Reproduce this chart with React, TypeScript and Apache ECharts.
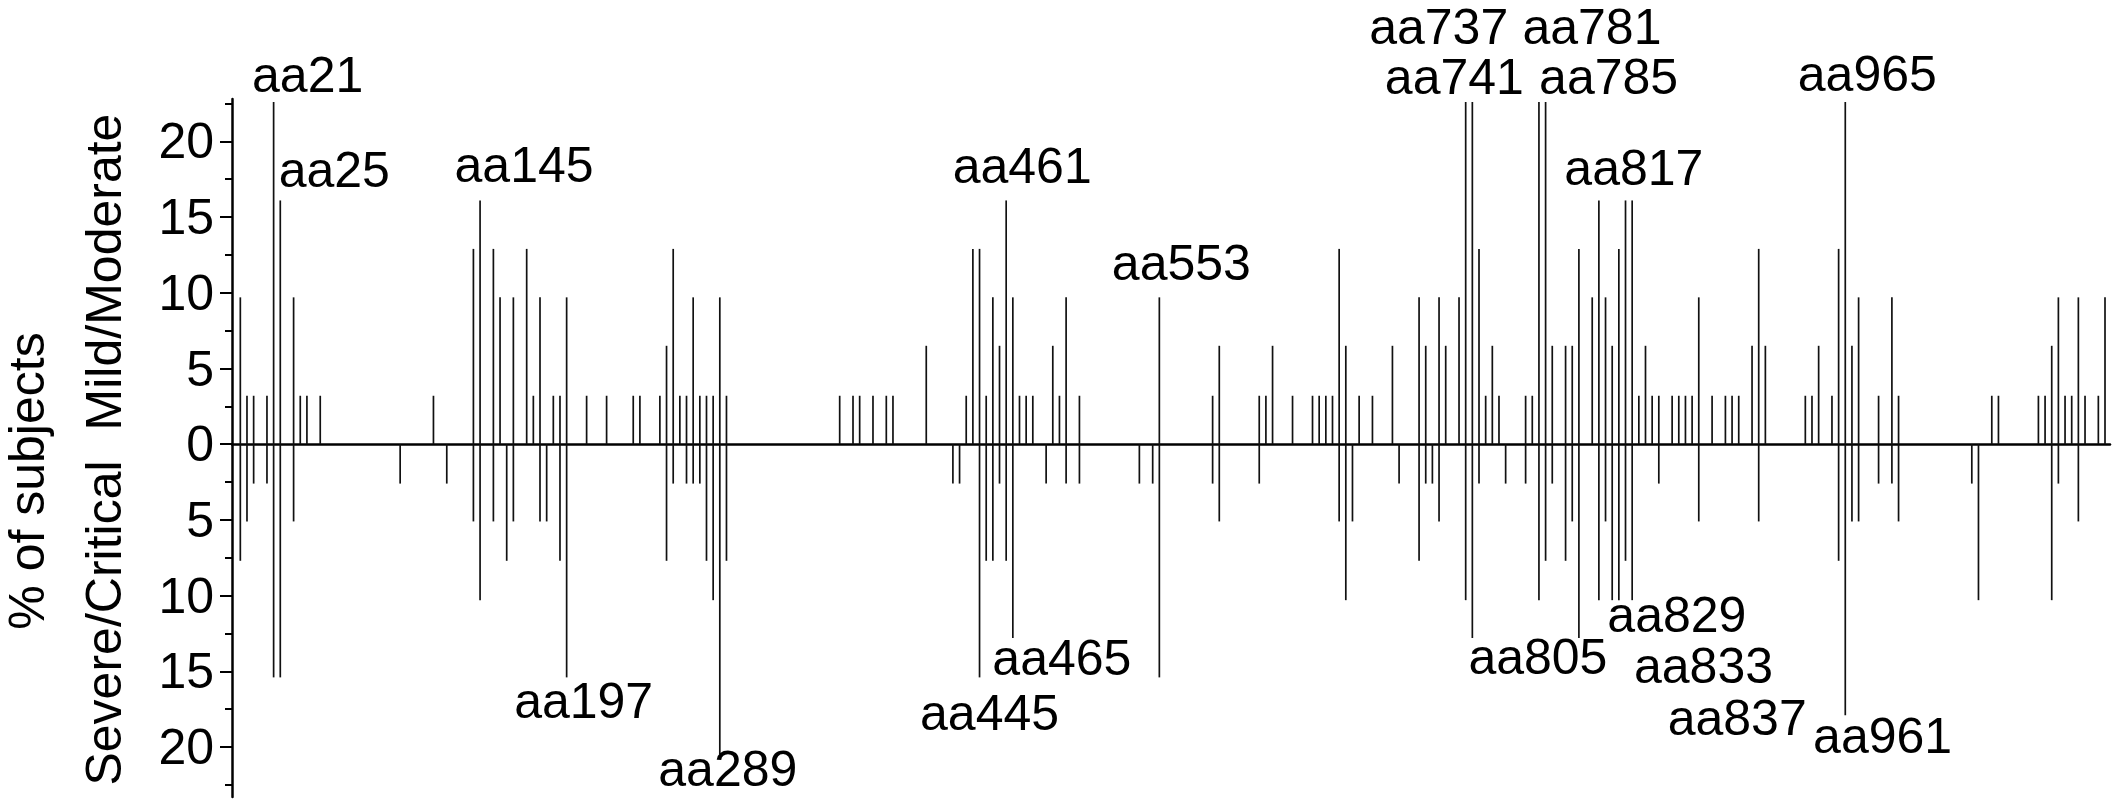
import React, { useEffect, useRef } from 'react';
import * as echarts from 'echarts';

// amino-acid positions that carry at least one bar
const positions = [
  1, 5, 9, 17, 21, 25, 33, 37, 41, 49, 97, 117, 125, 141, 145, 153, 157, 161, 165, 173,
  177, 181, 185, 189, 193, 197, 209, 221, 237, 241, 253, 257, 261, 265, 269, 273, 277, 281, 285, 289,
  293, 361, 369, 373, 381, 389, 393, 413, 429, 433, 437, 441, 445, 449, 453, 457, 461, 465, 469, 473,
  477, 485, 489, 493, 497, 505, 541, 549, 553, 585, 589, 613, 617, 621, 633, 645, 649, 653, 657, 661,
  665, 669, 673, 681, 693, 697, 709, 713, 717, 721, 725, 733, 737, 741, 745, 749, 753, 757, 761, 773,
  777, 781, 785, 789, 797, 801, 805, 813, 817, 821, 825, 829, 833, 837, 841, 845, 849, 853, 861, 865,
  869, 873, 877, 885, 893, 897, 901, 909, 913, 917, 941, 945, 949, 957, 961, 965, 969, 973, 985, 993,
  997, 1041, 1045, 1053, 1057, 1081, 1085, 1089, 1093, 1097, 1101, 1105, 1109, 1117, 1121,
];

// % of subjects, mild/moderate (upwards)
const mildModerate = [
  9.7, 3.2, 3.2, 3.2, 22.6, 16.1, 9.7, 3.2, 3.2, 3.2, 0, 3.2, 0, 12.9, 16.1, 12.9, 9.7, 0, 9.7, 12.9,
  3.2, 9.7, 0, 3.2, 3.2, 9.7, 3.2, 3.2, 3.2, 3.2, 3.2, 6.5, 12.9, 3.2, 3.2, 9.7, 3.2, 3.2, 3.2, 9.7,
  3.2, 3.2, 3.2, 3.2, 3.2, 3.2, 3.2, 6.5, 0, 0, 3.2, 12.9, 12.9, 3.2, 9.7, 6.5, 16.1, 9.7, 3.2, 3.2,
  3.2, 0, 6.5, 3.2, 9.7, 3.2, 0, 0, 9.7, 3.2, 6.5, 3.2, 3.2, 6.5, 3.2, 3.2, 3.2, 3.2, 3.2, 12.9,
  6.5, 0, 3.2, 3.2, 6.5, 0, 9.7, 6.5, 0, 9.7, 6.5, 9.7, 22.6, 22.6, 12.9, 3.2, 6.5, 3.2, 0, 3.2,
  3.2, 22.6, 22.6, 6.5, 6.5, 6.5, 12.9, 9.7, 16.1, 9.7, 6.5, 12.9, 16.1, 16.1, 3.2, 6.5, 3.2, 3.2, 3.2, 3.2,
  3.2, 3.2, 9.7, 3.2, 3.2, 3.2, 3.2, 6.5, 12.9, 6.5, 3.2, 3.2, 6.5, 3.2, 12.9, 22.6, 6.5, 9.7, 3.2, 9.7,
  3.2, 0, 0, 3.2, 3.2, 3.2, 3.2, 6.5, 9.7, 3.2, 3.2, 9.7, 3.2, 3.2, 9.7,
];

// % of subjects, severe/critical (downwards)
const severeCritical = [
  7.7, 5.1, 2.6, 2.6, 15.4, 15.4, 5.1, 0, 0, 0, 2.6, 0, 2.6, 5.1, 10.3, 5.1, 0, 7.7, 5.1, 0,
  0, 5.1, 5.1, 0, 7.7, 15.4, 0, 0, 0, 0, 0, 7.7, 2.6, 0, 2.6, 2.6, 2.6, 7.7, 10.3, 20.5,
  7.7, 0, 0, 0, 0, 0, 0, 0, 2.6, 2.6, 0, 0, 15.4, 7.7, 7.7, 2.6, 7.7, 12.8, 0, 0,
  0, 2.6, 0, 0, 2.6, 2.6, 2.6, 2.6, 15.4, 2.6, 5.1, 2.6, 0, 0, 0, 0, 0, 0, 0, 5.1,
  10.3, 5.1, 0, 0, 0, 2.6, 7.7, 2.6, 2.6, 5.1, 0, 0, 10.3, 12.8, 2.6, 0, 0, 0, 2.6, 2.6,
  0, 10.3, 7.7, 2.6, 7.7, 5.1, 12.8, 0, 10.3, 5.1, 10.3, 10.3, 7.7, 10.3, 0, 0, 0, 2.6, 0, 0,
  0, 0, 5.1, 0, 0, 0, 0, 0, 5.1, 0, 0, 0, 0, 0, 7.7, 17.9, 5.1, 5.1, 2.6, 2.6,
  5.1, 2.6, 10.3, 0, 0, 0, 0, 10.3, 2.6, 0, 0, 5.1, 0, 0, 0,
];

const majorTicks = [-20, -15, -10, -5, 0, 5, 10, 15, 20];
const minorTicks = [-22.5, -17.5, -12.5, -7.5, -2.5, 2.5, 7.5, 12.5, 17.5, 22.5];

const topLabels = [21, 25, 145, 461, 553, 737, 741, 781, 785, 817, 965];
const bottomLabels = [197, 289, 445, 465, 805, 829, 833, 837, 961];

// label placement relative to the bar tip, px
const topShift: Record<number, [number, number]> = {
  21: [34, -6], 25: [54, -9], 145: [44, -14], 461: [16, -13], 553: [22, -13],
  737: [-27, -54], 741: [-18, -4], 781: [53, -54], 785: [63, -4], 817: [35, -11], 965: [22, -7],
};
const bottomShift: Record<number, [number, number]> = {
  197: [17, 3], 289: [8, -7], 445: [10, 15], 465: [49, -1], 805: [-41, -2],
  829: [58, -6], 833: [78, 84], 837: [105, 97], 961: [44, 154],
};

const FONT = '"Liberation Sans", Arial, sans-serif';

export default function App() {
  const chartRef = useRef<HTMLDivElement>(null);

  useEffect(() => {
    if (!chartRef.current) return;
    const chart = echarts.init(chartRef.current, null, { renderer: 'svg' });

    const upData: any[] = [];
    const downData: any[] = [];
    positions.forEach((aa, i) => {
      if (mildModerate[i] > 0) {
        const item: any = { value: [aa, mildModerate[i]] };
        if (topLabels.includes(aa)) {
          item.label = {
            show: true, position: 'top', distance: 0,
            formatter: 'aa' + aa, offset: topShift[aa],
          };
        }
        upData.push(item);
      }
      if (severeCritical[i] > 0) {
        const item: any = { value: [aa, -severeCritical[i]] };
        if (bottomLabels.includes(aa)) {
          item.label = {
            show: true, position: 'bottom', distance: 0,
            formatter: 'aa' + aa, offset: bottomShift[aa],
          };
        }
        downData.push(item);
      }
    });

    const labelStyle = { show: false, fontSize: 50, lineHeight: 42, fontFamily: FONT, color: '#000' };

    const option: any = {
      animation: false,
      grid: { left: 232, right: 2, top: 99, bottom: 3, outerBoundsMode: 'none' },
      xAxis: {
        type: 'value', min: -4, max: 1124,
        axisLine: { onZero: true, lineStyle: { color: '#000', width: 2.5 } },
        axisTick: { show: false }, axisLabel: { show: false }, splitLine: { show: false },
      },
      yAxis: [
        {
          type: 'value', min: -23.3, max: 22.8, position: 'left',
          axisLine: { show: true, onZero: false, lineStyle: { color: '#000', width: 2.5 } },
          axisTick: { show: true, customValues: majorTicks, length: 12, lineStyle: { color: '#000', width: 2 } },
          axisLabel: {
            show: true, customValues: majorTicks, margin: 18,
            formatter: (v: number) => String(Math.abs(v)),
            fontSize: 50, fontFamily: FONT, color: '#000',
          },
          splitLine: { show: false },
        },
        {
          type: 'value', min: -23.3, max: 22.8, position: 'left',
          axisLine: { show: false, onZero: false },
          axisTick: { show: true, customValues: minorTicks, length: 7, lineStyle: { color: '#000', width: 2 } },
          axisLabel: { show: false },
          splitLine: { show: false },
        },
      ],
      series: [
        {
          type: 'bar', name: 'Mild/Moderate', yAxisIndex: 0,
          barWidth: 1.7, barGap: '-100%',
          itemStyle: { color: '#111' }, label: labelStyle, data: upData,
        },
        {
          type: 'bar', name: 'Severe/Critical', yAxisIndex: 0,
          barWidth: 1.7, barGap: '-100%',
          itemStyle: { color: '#111' }, label: labelStyle, data: downData,
        },
      ],
      graphic: [
        {
          type: 'text', x: 27, y: 481, rotation: Math.PI / 2,
          style: { text: '% of subjects', fontSize: 50, lineHeight: 44, fontFamily: FONT, fill: '#000', align: 'center', verticalAlign: 'middle' },
        },
        {
          type: 'text', x: 104, y: 272, rotation: Math.PI / 2,
          style: { text: 'Mild/Moderate', fontSize: 50, lineHeight: 44, fontFamily: FONT, fill: '#000', align: 'center', verticalAlign: 'middle' },
        },
        {
          type: 'text', x: 104, y: 623, rotation: Math.PI / 2,
          style: { text: 'Severe/Critical', fontSize: 50, lineHeight: 44, fontFamily: FONT, fill: '#000', align: 'center', verticalAlign: 'middle' },
        },
      ],
    };

    chart.setOption(option);
    return () => {
      chart.dispose();
    };
  }, []);

  return (
    <div
      ref={chartRef}
      style={{ position: 'fixed', left: 0, top: 0, width: 2112, height: 800, background: '#fff' }}
    />
  );
}
